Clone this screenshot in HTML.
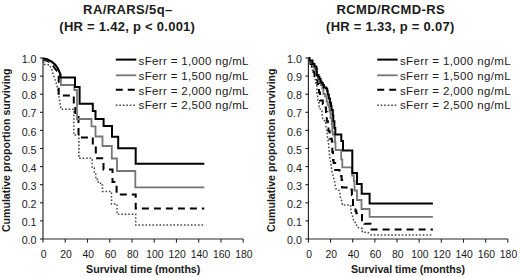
<!DOCTYPE html>
<html><head><meta charset="utf-8"><style>
html,body{margin:0;padding:0;background:#fff;}
body{width:520px;height:277px;overflow:hidden;}
svg{display:block;}
text{font-family:"Liberation Sans", sans-serif;fill:#1a1a1a;}
.tl{font-size:10.4px;}
.ytl{font-size:10.7px;}
.lg{font-size:11.5px;}
.tt{font-size:13px;font-weight:bold;}
.al{font-size:10.6px;font-weight:bold;}
.ax{stroke:#262626;stroke-width:1.15;fill:none;}
.tk{stroke:#222;stroke-width:1.1;fill:none;}
.c1{stroke:#000;stroke-width:2;fill:none;}
.c2{stroke:#767676;stroke-width:1.8;fill:none;}
.c3{stroke:#000;stroke-width:2;fill:none;stroke-dasharray:7 5;}
.c4{stroke:#444;stroke-width:1.5;fill:none;stroke-dasharray:1.6 1.9;}
</style></head><body>
<svg width="520" height="277" viewBox="0 0 520 277">
<line x1="43" y1="58" x2="43" y2="239" class="ax"/>
<line x1="43" y1="239" x2="243.2" y2="239" class="ax"/>
<line x1="40" y1="239.00" x2="43" y2="239.00" class="tk"/>
<text x="36.50" y="244.10" class="ytl" text-anchor="end">0.0</text>
<line x1="40" y1="220.90" x2="43" y2="220.90" class="tk"/>
<text x="36.50" y="226.00" class="ytl" text-anchor="end">0.1</text>
<line x1="40" y1="202.80" x2="43" y2="202.80" class="tk"/>
<text x="36.50" y="207.90" class="ytl" text-anchor="end">0.2</text>
<line x1="40" y1="184.70" x2="43" y2="184.70" class="tk"/>
<text x="36.50" y="189.80" class="ytl" text-anchor="end">0.3</text>
<line x1="40" y1="166.60" x2="43" y2="166.60" class="tk"/>
<text x="36.50" y="171.70" class="ytl" text-anchor="end">0.4</text>
<line x1="40" y1="148.50" x2="43" y2="148.50" class="tk"/>
<text x="36.50" y="153.60" class="ytl" text-anchor="end">0.5</text>
<line x1="40" y1="130.40" x2="43" y2="130.40" class="tk"/>
<text x="36.50" y="135.50" class="ytl" text-anchor="end">0.6</text>
<line x1="40" y1="112.30" x2="43" y2="112.30" class="tk"/>
<text x="36.50" y="117.40" class="ytl" text-anchor="end">0.7</text>
<line x1="40" y1="94.20" x2="43" y2="94.20" class="tk"/>
<text x="36.50" y="99.30" class="ytl" text-anchor="end">0.8</text>
<line x1="40" y1="76.10" x2="43" y2="76.10" class="tk"/>
<text x="36.50" y="81.20" class="ytl" text-anchor="end">0.9</text>
<line x1="40" y1="58.00" x2="43" y2="58.00" class="tk"/>
<text x="36.50" y="63.10" class="ytl" text-anchor="end">1.0</text>
<line x1="43.00" y1="239" x2="43.00" y2="242.6" class="tk"/>
<text x="43.70" y="257.90" class="tl" text-anchor="middle">0</text>
<line x1="65.24" y1="239" x2="65.24" y2="242.6" class="tk"/>
<text x="65.94" y="257.90" class="tl" text-anchor="middle">20</text>
<line x1="87.49" y1="239" x2="87.49" y2="242.6" class="tk"/>
<text x="88.19" y="257.90" class="tl" text-anchor="middle">40</text>
<line x1="109.73" y1="239" x2="109.73" y2="242.6" class="tk"/>
<text x="110.43" y="257.90" class="tl" text-anchor="middle">60</text>
<line x1="131.98" y1="239" x2="131.98" y2="242.6" class="tk"/>
<text x="132.68" y="257.90" class="tl" text-anchor="middle">80</text>
<line x1="154.22" y1="239" x2="154.22" y2="242.6" class="tk"/>
<text x="154.92" y="257.90" class="tl" text-anchor="middle">100</text>
<line x1="176.47" y1="239" x2="176.47" y2="242.6" class="tk"/>
<text x="177.17" y="257.90" class="tl" text-anchor="middle">120</text>
<line x1="198.71" y1="239" x2="198.71" y2="242.6" class="tk"/>
<text x="199.41" y="257.90" class="tl" text-anchor="middle">140</text>
<line x1="220.96" y1="239" x2="220.96" y2="242.6" class="tk"/>
<text x="221.66" y="257.90" class="tl" text-anchor="middle">160</text>
<line x1="243.20" y1="239" x2="243.20" y2="242.6" class="tk"/>
<text x="243.90" y="257.90" class="tl" text-anchor="middle">180</text>
<line x1="308.4" y1="58" x2="308.4" y2="239" class="ax"/>
<line x1="308.4" y1="239" x2="507.8" y2="239" class="ax"/>
<line x1="305.4" y1="239.00" x2="308.4" y2="239.00" class="tk"/>
<text x="301.90" y="244.10" class="ytl" text-anchor="end">0.0</text>
<line x1="305.4" y1="220.90" x2="308.4" y2="220.90" class="tk"/>
<text x="301.90" y="226.00" class="ytl" text-anchor="end">0.1</text>
<line x1="305.4" y1="202.80" x2="308.4" y2="202.80" class="tk"/>
<text x="301.90" y="207.90" class="ytl" text-anchor="end">0.2</text>
<line x1="305.4" y1="184.70" x2="308.4" y2="184.70" class="tk"/>
<text x="301.90" y="189.80" class="ytl" text-anchor="end">0.3</text>
<line x1="305.4" y1="166.60" x2="308.4" y2="166.60" class="tk"/>
<text x="301.90" y="171.70" class="ytl" text-anchor="end">0.4</text>
<line x1="305.4" y1="148.50" x2="308.4" y2="148.50" class="tk"/>
<text x="301.90" y="153.60" class="ytl" text-anchor="end">0.5</text>
<line x1="305.4" y1="130.40" x2="308.4" y2="130.40" class="tk"/>
<text x="301.90" y="135.50" class="ytl" text-anchor="end">0.6</text>
<line x1="305.4" y1="112.30" x2="308.4" y2="112.30" class="tk"/>
<text x="301.90" y="117.40" class="ytl" text-anchor="end">0.7</text>
<line x1="305.4" y1="94.20" x2="308.4" y2="94.20" class="tk"/>
<text x="301.90" y="99.30" class="ytl" text-anchor="end">0.8</text>
<line x1="305.4" y1="76.10" x2="308.4" y2="76.10" class="tk"/>
<text x="301.90" y="81.20" class="ytl" text-anchor="end">0.9</text>
<line x1="305.4" y1="58.00" x2="308.4" y2="58.00" class="tk"/>
<text x="301.90" y="63.10" class="ytl" text-anchor="end">1.0</text>
<line x1="308.40" y1="239" x2="308.40" y2="242.6" class="tk"/>
<text x="309.10" y="257.90" class="tl" text-anchor="middle">0</text>
<line x1="330.56" y1="239" x2="330.56" y2="242.6" class="tk"/>
<text x="331.26" y="257.90" class="tl" text-anchor="middle">20</text>
<line x1="352.71" y1="239" x2="352.71" y2="242.6" class="tk"/>
<text x="353.41" y="257.90" class="tl" text-anchor="middle">40</text>
<line x1="374.87" y1="239" x2="374.87" y2="242.6" class="tk"/>
<text x="375.57" y="257.90" class="tl" text-anchor="middle">60</text>
<line x1="397.02" y1="239" x2="397.02" y2="242.6" class="tk"/>
<text x="397.72" y="257.90" class="tl" text-anchor="middle">80</text>
<line x1="419.18" y1="239" x2="419.18" y2="242.6" class="tk"/>
<text x="419.88" y="257.90" class="tl" text-anchor="middle">100</text>
<line x1="441.33" y1="239" x2="441.33" y2="242.6" class="tk"/>
<text x="442.03" y="257.90" class="tl" text-anchor="middle">120</text>
<line x1="463.49" y1="239" x2="463.49" y2="242.6" class="tk"/>
<text x="464.19" y="257.90" class="tl" text-anchor="middle">140</text>
<line x1="485.64" y1="239" x2="485.64" y2="242.6" class="tk"/>
<text x="486.34" y="257.90" class="tl" text-anchor="middle">160</text>
<line x1="507.80" y1="239" x2="507.80" y2="242.6" class="tk"/>
<text x="508.50" y="257.90" class="tl" text-anchor="middle">180</text>
<polyline class="c4" points="43,58 43.7,58.5 43.8,64.5 49.5,64.7 50.5,67 52,70 53,74 54.5,78 56,82.5 57,86 57.8,90 58.5,94 59.2,98 59.9,102 60.5,106 61,109.3 61,109.3 61,109.3 73.8,109.3 73.8,135 78.9,135 78.9,158.3 92.2,158.3 92.2,168 94.3,168 94.3,172 95.8,172 95.8,177.5 97.4,177.5 97.4,182 100.5,182 100.5,185 102.5,185 102.5,191.5 111.5,191.5 111.5,204 117,204 117,214.2 135.7,214.2 135.7,225 205,225 205,225"/>
<polyline class="c3" points="43,59.5 45,60 47,60.8 49,61.8 50.5,63 52,64.5 53.5,66.5 55,68.5 56.5,70.5 57.5,72 58.4,74 58.7,74 58.7,95.5 73.8,95.5 73.8,104 75.3,104 75.3,113 78.5,113 78.5,137.5 92.8,137.5 92.8,145 95.8,145 95.8,158.3 103.5,158.3 103.5,169.4 112.5,169.4 112.5,182 116.6,182 116.6,194.6 135.7,194.6 135.7,208.5 204.3,208.5 204.3,208.5"/>
<polyline class="c2" points="43,59 45,59.4 47,60 49,60.8 50.7,61.7 52,62.6 53.3,63.6 54.7,64.8 55.9,66 56.8,67.3 57.6,68.6 58.3,70 59,71.5 60,73 60.9,74.5 60.9,74.5 60.9,85 74.3,85 74.3,90 77.0,90 77.0,119 91.5,119 91.5,126.4 95.5,126.4 95.5,136.5 102.5,136.5 102.5,146 111.8,146 111.8,158.5 117,158.5 117,171 135.3,171 135.3,187.3 204.3,187.3 204.3,187.3"/>
<polyline class="c1" points="43,58.4 45,58.8 47,59.3 49,60.1 50.7,61 52,61.9 53.3,62.9 54.7,64.1 55.9,65.4 56.8,66.7 57.6,68 58.3,69.4 59,71 59.7,72.8 60.2,74.5 60.2,74.5 60.2,77.6 75,77.6 75,87 79.6,87 79.6,103.8 92.8,103.8 92.8,111 95.5,111 95.5,119 103.6,119 103.6,126 112,126 112,136.8 118.2,136.8 118.2,148.3 135.7,148.3 135.7,163.8 204.3,163.8 204.3,163.8"/>
<polyline class="c4" points="308.6,58 308.8,62.5 311,63 311.4,67 312.5,67.5 312.5,70 314,71 314.1,74.5 314.7,76 314.7,79 315.8,80 315.8,83 316.9,84 316.9,93 317.5,94 318,100 319,101 319.2,106.6 320.3,107 320.3,110.4 322,111 322,114 322.5,116.9 323,120.2 325.8,121 325.8,124.5 326.3,128.3 326.9,131.3 327.4,136.7 328.5,143.2 329,148.6 329.6,156.2 330.9,164.2 331.4,168 332.5,173.4 333.6,177.8 334.7,182 335,184.8 336.2,189.1 338.9,190.2 340,193.4 340.5,197.8 342.1,202 342.2,205 350.6,205 350.9,210 351.4,213.1 353,217.5 353.6,220.7 354.1,221.9 356.3,223 356.8,226.8 359,227.9 362.3,228.4 362.3,232.2 367.1,232.2 369.3,233.3 371,235 432.9,235"/>
<polyline class="c3" style="stroke-dashoffset:6.5" points="308.6,58 309,58 309,61.5 310.5,61.5 310.5,64 312,64 312,68 313.5,68 313.5,72 314.5,72 314.5,76 316,76 316,80 317.5,80 317.5,84 319,84 319,92.5 320,92.5 320,100.5 322.8,100.5 322.8,104 324,104 324,107.5 326,107.5 326,112 326.8,112 326.8,121.3 327.9,121.3 327.9,126.7 328.5,126.7 328.5,131 329.6,131 329.6,138.8 331.8,138.8 331.8,141 332.3,141 332.3,152 333,152 333,160 333.6,160 333.6,163 335.2,163 335.2,170 339.5,170 339.5,176 341.6,176 341.6,180 342.1,180 342.1,187.5 351.6,187.5 351.6,190 351.9,190 351.9,195 353,195 353,205 355.5,205 355.5,211 356.3,211 356.3,213.3 362,213.3 362,220.3 364.4,220.3 364.4,223.8 370.5,223.8 370.5,229.5 432.9,229.5 432.9,229.5"/>
<polyline class="c2" points="308.6,58 309.3,58 309.3,61 311.5,61 311.5,63 313,63 313,66 314.5,66 314.5,69 315.8,69 315.8,72 316.8,72 316.8,76 318,76 318,79 319.5,79 319.5,82 320.8,82 320.8,85 322.3,85 322.3,88.7 323.4,88.7 323.4,94 325,94 325,96.3 326.6,96.3 326.6,101.7 327.7,101.7 327.7,105 329,105 329,107 329.5,107 329.5,111.5 330.6,111.5 330.6,118 331.7,118 331.7,124 332.3,124 332.3,132 332.8,132 332.8,134.5 334.5,134.5 334.5,136.7 335,136.7 335,142 335.5,142 335.5,150 341.2,150 341.2,159.3 342.3,159.3 342.3,167.4 352.2,167.4 352.2,175.5 353.8,175.5 353.8,181 354.5,181 354.5,190.5 357,190.5 357,200 361.5,200 361.5,209 369.6,209 369.6,216.8 432.9,216.8 432.9,216.8"/>
<polyline class="c1" points="308.6,58 309.5,58 309.5,60.5 312.5,60.5 312.5,64 314.5,64 314.5,66.5 316.3,66.5 316.3,68.5 316.8,68.5 316.8,75 318.5,75 318.5,77 319.5,77 319.5,79 320.6,79 320.6,81.5 321.5,81.5 321.5,83 322.8,83 322.8,85 323.9,85 323.9,87.5 326.1,87.5 326.1,88.5 327.2,88.5 327.2,91 327.7,91 327.7,94.5 328.8,94.5 328.8,98.5 329.9,98.5 329.9,102.8 331,102.8 331,106 331.5,106 331.5,110 332.8,110 332.8,115.3 333.3,115.3 333.3,121.3 334.4,121.3 334.4,128 335.3,128 335.3,134.5 341.3,134.5 341.3,141 343,141 343,150.4 352.3,150.4 352.3,173 357,173 357,184 361.7,184 361.7,193.8 369.6,193.8 369.6,203.4 432.9,203.4 432.9,203.4"/>
<line x1="115.8" y1="59.6" x2="136.3" y2="59.6" class="c1"/>
<text x="138.6" y="64.8" class="lg" textLength="109.9" lengthAdjust="spacing">sFerr = 1,000 ng/mL</text>
<line x1="115.8" y1="75.3" x2="136.3" y2="75.3" class="c2"/>
<text x="138.6" y="80.3" class="lg" textLength="109.9" lengthAdjust="spacing">sFerr = 1,500 ng/mL</text>
<line x1="115.8" y1="89.8" x2="136.3" y2="89.8" class="c3"/>
<text x="138.6" y="94.8" class="lg" textLength="109.9" lengthAdjust="spacing">sFerr = 2,000 ng/mL</text>
<line x1="115.8" y1="105.3" x2="136.3" y2="105.3" class="c4"/>
<text x="138.6" y="109.3" class="lg" textLength="109.9" lengthAdjust="spacing">sFerr = 2,500 ng/mL</text>
<line x1="377.2" y1="59.6" x2="397.7" y2="59.6" class="c1"/>
<text x="399.9" y="64.8" class="lg" textLength="110.8" lengthAdjust="spacing">sFerr = 1,000 ng/mL</text>
<line x1="377.2" y1="75.3" x2="397.7" y2="75.3" class="c2"/>
<text x="399.9" y="80.3" class="lg" textLength="110.8" lengthAdjust="spacing">sFerr = 1,500 ng/mL</text>
<line x1="377.2" y1="89.8" x2="397.7" y2="89.8" class="c3"/>
<text x="399.9" y="94.8" class="lg" textLength="110.8" lengthAdjust="spacing">sFerr = 2,000 ng/mL</text>
<line x1="377.2" y1="105.3" x2="397.7" y2="105.3" class="c4"/>
<text x="399.9" y="109.3" class="lg" textLength="110.8" lengthAdjust="spacing">sFerr = 2,500 ng/mL</text>
<text x="127.7" y="14.3" class="tt" text-anchor="middle" textLength="89.2" lengthAdjust="spacing">RA/RARS/5q–</text>
<text x="127.15" y="30.5" class="tt" text-anchor="middle" textLength="135.6" lengthAdjust="spacing">(HR = 1.42, p &lt; 0.001)</text>
<text x="390.5" y="14.3" class="tt" text-anchor="middle" textLength="108.2" lengthAdjust="spacing">RCMD/RCMD-RS</text>
<text x="390.2" y="30.5" class="tt" text-anchor="middle" textLength="128.3" lengthAdjust="spacing">(HR = 1.33, p = 0.07)</text>
<text x="143.2" y="272.6" class="al" text-anchor="middle">Survival time (months)</text>
<text x="408" y="272.6" class="al" text-anchor="middle">Survival time (months)</text>
<text transform="translate(10.1,150.3) rotate(-90)" class="al" text-anchor="middle">Cumulative proportion surviving</text>
<text transform="translate(275.3,150.3) rotate(-90)" class="al" text-anchor="middle">Cumulative proportion surviving</text>
</svg>
</body></html>
